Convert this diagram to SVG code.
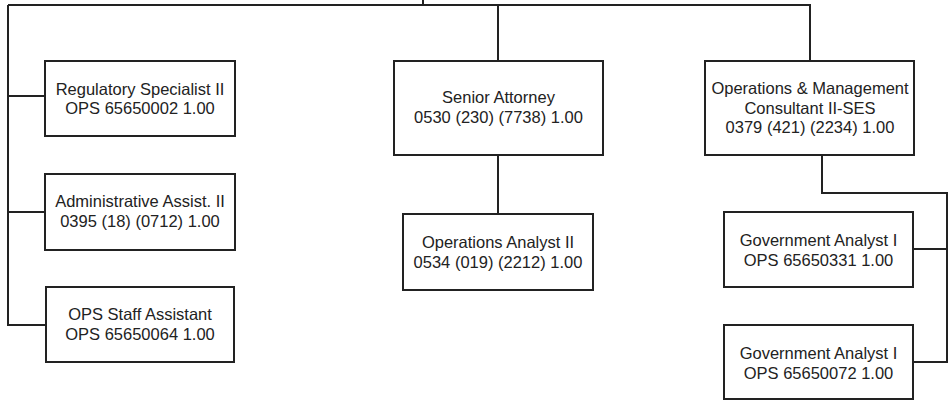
<svg xmlns="http://www.w3.org/2000/svg" width="952" height="400" viewBox="0 0 952 400">
  <style>
    .box { fill: #ffffff; stroke: #222222; stroke-width: 2; }
    .wire { fill: none; stroke: #222222; stroke-width: 2; }
    .lbl { font-family: "Liberation Sans", Arial, sans-serif; font-size: 16.5px; fill: #222222; text-anchor: middle; }
  </style>
  <rect width="952" height="400" fill="#ffffff"/>

  <g id="connectors">
    <path class="wire" d="M423,0 V5"/>
    <path class="wire" d="M8,5 H810 V61"/>
    <path class="wire" d="M498,5 V61"/>
    <path class="wire" d="M8,5 V325 H46"/>
    <path class="wire" d="M8,96 H45"/>
    <path class="wire" d="M8,212 H45"/>
    <path class="wire" d="M498,155 V214"/>
    <path class="wire" d="M822,155 V193 H947 V362 H913"/>
    <path class="wire" d="M913,249 H947"/>
  </g>

  <g id="regulatory-specialist">
    <rect class="box" x="45" y="61" width="190" height="75"/>
    <text class="lbl" x="140" y="95">Regulatory Specialist II</text>
    <text class="lbl" x="140" y="114">OPS 65650002 1.00</text>
  </g>

  <g id="administrative-assist">
    <rect class="box" x="45" y="174" width="190" height="76"/>
    <text class="lbl" x="140" y="207">Administrative Assist. II</text>
    <text class="lbl" x="140" y="227">0395 (18) (0712) 1.00</text>
  </g>

  <g id="ops-staff-assistant">
    <rect class="box" x="46" y="287" width="188" height="75"/>
    <text class="lbl" x="140" y="320">OPS Staff Assistant</text>
    <text class="lbl" x="140" y="340">OPS 65650064 1.00</text>
  </g>

  <g id="senior-attorney">
    <rect class="box" x="394" y="61" width="209" height="94"/>
    <text class="lbl" x="498.5" y="103">Senior Attorney</text>
    <text class="lbl" x="498.5" y="123">0530 (230) (7738) 1.00</text>
  </g>

  <g id="operations-analyst">
    <rect class="box" x="403" y="214" width="190" height="76"/>
    <text class="lbl" x="498" y="248">Operations Analyst II</text>
    <text class="lbl" x="498" y="268">0534 (019) (2212) 1.00</text>
  </g>

  <g id="operations-management-consultant">
    <rect class="box" x="705" y="61" width="209" height="94"/>
    <text class="lbl" x="810" y="94">Operations &amp; Management</text>
    <text class="lbl" x="810" y="114">Consultant II-SES</text>
    <text class="lbl" x="810" y="133">0379 (421) (2234) 1.00</text>
  </g>

  <g id="government-analyst-1">
    <rect class="box" x="724" y="212" width="189" height="75"/>
    <text class="lbl" x="818.5" y="246">Government Analyst I</text>
    <text class="lbl" x="818.5" y="266">OPS 65650331 1.00</text>
  </g>

  <g id="government-analyst-2">
    <rect class="box" x="724" y="325" width="189" height="74"/>
    <text class="lbl" x="818.5" y="359">Government Analyst I</text>
    <text class="lbl" x="818.5" y="379">OPS 65650072 1.00</text>
  </g>
</svg>
